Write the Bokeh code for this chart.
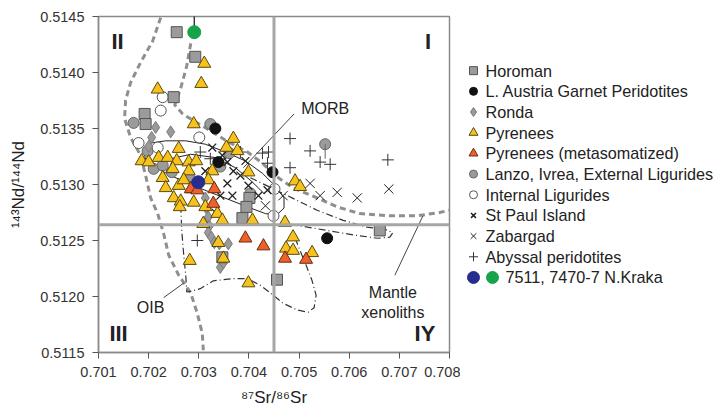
from bokeh.plotting import figure
from bokeh.models import Range1d, FixedTicker, PrintfTickFormatter, Span
from bokeh.layouts import row
from bokeh.embed import file_html
from bokeh.resources import INLINE
from bokeh.core.properties import value

FONT = "Liberation Sans"

# ---------------- axes ----------------
x_ticks = [0.701, 0.702, 0.703, 0.704, 0.705, 0.706, 0.707, 0.708]
y_ticks = [0.5115, 0.5120, 0.5125, 0.5130, 0.5135, 0.5140, 0.5145]
sr_divide = 0.7045
nd_divide = 0.51264

# ---------------- data ----------------
horoman_sr = [0.70256, 0.70293, 0.70250, 0.70192, 0.70194, 0.70401, 0.70395, 0.70387, 0.70347, 0.70456, 0.70661]
horoman_nd = [0.51436, 0.51414, 0.51378, 0.51363, 0.51354, 0.51288, 0.51280, 0.51270, 0.51235, 0.51215, 0.51259]

austria_sr = [0.70333, 0.70339, 0.70447, 0.70556]
austria_nd = [0.51350, 0.51320, 0.51311, 0.51252]

ronda_sr = [0.70214, 0.70244, 0.70206, 0.70200, 0.70313, 0.70315, 0.70319, 0.70321, 0.70319, 0.70325,
            0.70331, 0.70341, 0.70359, 0.70343, 0.70349]
ronda_nd = [0.51351, 0.51347, 0.51342, 0.51334, 0.51288, 0.51279, 0.51271, 0.51263, 0.51257, 0.51253,
            0.51248, 0.51247, 0.51247, 0.51226, 0.51230]

pyr_sr = [0.70311, 0.70305, 0.70218, 0.70290, 0.70369, 0.70355, 0.70377, 0.70260, 0.70186, 0.70200,
          0.70220, 0.70238, 0.70256, 0.70280, 0.70295, 0.70248, 0.70228, 0.70280, 0.70327, 0.70399,
          0.70260, 0.70234, 0.70319, 0.70270, 0.70287, 0.70250, 0.70264, 0.70262, 0.70290, 0.70313,
          0.70337, 0.70347, 0.70407, 0.70309, 0.70339, 0.70349, 0.70282, 0.70399, 0.70472, 0.70488,
          0.70474, 0.70488, 0.70526, 0.70492, 0.70502]
pyr_nd = [0.51408, 0.51390, 0.51385, 0.51354, 0.51341, 0.51333, 0.51330, 0.51332, 0.51321, 0.51320,
          0.51324, 0.51324, 0.51321, 0.51320, 0.51321, 0.51314, 0.51306, 0.51312, 0.51312, 0.51311,
          0.51299, 0.51297, 0.51304, 0.51304, 0.51296, 0.51288, 0.51285, 0.51280, 0.51284, 0.51280,
          0.51274, 0.51268, 0.51268, 0.51265, 0.51248, 0.51234, 0.51232, 0.51212, 0.51266, 0.51253,
          0.51243, 0.51241, 0.51239, 0.51303, 0.51298]

meta_sr = [0.70284, 0.70297, 0.70331, 0.70329, 0.70393, 0.70429, 0.70472, 0.70514]
meta_nd = [0.51296, 0.51295, 0.51296, 0.51283, 0.51252, 0.51245, 0.51234, 0.51233]

lanzo_sr = [0.70170, 0.70198, 0.70210, 0.70228, 0.70246, 0.70280, 0.70361, 0.70343, 0.70323, 0.70403, 0.70552]
lanzo_nd = [0.51355, 0.51330, 0.51314, 0.51317, 0.51311, 0.51307, 0.51328, 0.51316, 0.51354, 0.51292, 0.51336]

intlig_sr = [0.70228, 0.70224, 0.70301, 0.70180, 0.70218, 0.70451, 0.70449]
intlig_nd = [0.51378, 0.51366, 0.51342, 0.51337, 0.51333, 0.51296, 0.51272]

stpaul_sr = [0.70327, 0.70347, 0.70357, 0.70369, 0.70357, 0.70367, 0.70343, 0.70383, 0.70399, 0.70419,
             0.70437, 0.70333, 0.70313, 0.70393]
stpaul_nd = [0.51333, 0.51326, 0.51320, 0.51312, 0.51301, 0.51290, 0.51290, 0.51308, 0.51299, 0.51290,
             0.51295, 0.51275, 0.51312, 0.51321]

zab_sr = [0.70522, 0.70542, 0.70576, 0.70616, 0.70679, 0.70468, 0.70433]
zab_nd = [0.51301, 0.51290, 0.51293, 0.51288, 0.51296, 0.51290, 0.51281]

abyss_sr = [0.70482, 0.70522, 0.70542, 0.70562, 0.70482, 0.70677, 0.70427, 0.70439, 0.70437, 0.70297,
            0.70303, 0.70323, 0.70383]
abyss_nd = [0.51341, 0.51330, 0.51320, 0.51318, 0.51315, 0.51322, 0.51328, 0.51329, 0.51319, 0.51250,
            0.51329, 0.51323, 0.51329]

kraka_blue_sr = [0.70299]
kraka_blue_nd = [0.51302]
kraka_green_sr = [0.70291]
kraka_green_nd = [0.51436]
kraka_green_err_top = [0.51462]

lanzo_err_sr = [0.70552]
lanzo_err_lo = [0.51323]

# ---------------- field outlines ----------------
oib_sr = [0.70224, 0.70208, 0.70184, 0.70164, 0.70154, 0.70152, 0.70164, 0.70184, 0.70194, 0.70204,
          0.70218, 0.70230, 0.70240, 0.70260, 0.70284, 0.70297, 0.70307, 0.70309]
oib_nd = [0.51449, 0.51428, 0.51409, 0.51391, 0.51375, 0.51359, 0.51342, 0.51326, 0.51308, 0.51288,
          0.51274, 0.51256, 0.51237, 0.51219, 0.51203, 0.51185, 0.51167, 0.51152]

xeno_up_sr = [0.70284, 0.70276, 0.70264, 0.70252, 0.70268, 0.70293, 0.70323, 0.70359, 0.70397, 0.70427,
              0.70452, 0.70488, 0.70536, 0.70576, 0.70621, 0.70681, 0.70735, 0.70780, 0.70810]
xeno_up_nd = [0.51426, 0.51406, 0.51386, 0.51371, 0.51363, 0.51356, 0.51348, 0.51338, 0.51329, 0.51319,
              0.51308, 0.51297, 0.51288, 0.51280, 0.51274, 0.51272, 0.51272, 0.51275, 0.51278]

xeno_lo_sr = [0.70403, 0.70468, 0.70536, 0.70588, 0.70635, 0.70671, 0.70687, 0.70681, 0.70657, 0.70608,
              0.70556, 0.70502, 0.70462]
xeno_lo_nd = [0.51306, 0.51292, 0.51277, 0.51268, 0.51262, 0.51260, 0.51257, 0.51253, 0.51252, 0.51255,
              0.51259, 0.51263, 0.51266]

pyr_field_sr = [0.70264, 0.70266, 0.70270, 0.70274, 0.70276, 0.70287, 0.70303, 0.70329, 0.70369, 0.70397,
                0.70423, 0.70449, 0.70468, 0.70496, 0.70518, 0.70530, 0.70534, 0.70526, 0.70514, 0.70502,
                0.70494]
pyr_field_nd = [0.51281, 0.51259, 0.51237, 0.51219, 0.51204, 0.51205, 0.51207, 0.51214, 0.51216, 0.51216,
                0.51210, 0.51201, 0.51194, 0.51188, 0.51186, 0.51190, 0.51201, 0.51214, 0.51228, 0.51241,
                0.51250]

morb_sr = [0.70190, 0.70204, 0.70234, 0.70274, 0.70313, 0.70353, 0.70393, 0.70427, 0.70454, 0.70470,
           0.70470, 0.70456, 0.70433, 0.70403, 0.70363, 0.70323, 0.70284, 0.70244, 0.70214, 0.70194, 0.70190]
morb_nd = [0.51330, 0.51337, 0.51339, 0.51339, 0.51336, 0.51329, 0.51321, 0.51310, 0.51298, 0.51288,
           0.51279, 0.51273, 0.51274, 0.51279, 0.51286, 0.51293, 0.51300, 0.51308, 0.51315, 0.51322, 0.51330]

morb_inner_sr = [0.70234, 0.70284, 0.70333, 0.70373, 0.70405, 0.70430]
morb_inner_nd = [0.51322, 0.51327, 0.51324, 0.51315, 0.51303, 0.51292]

# ---------------- labels ----------------
quadrant_labels = ["II", "I", "III", "IY"]
quadrant_sr = [0.70138, 0.70757, 0.70140, 0.70751]
quadrant_nd = [0.51428, 0.51428, 0.51167, 0.51167]

field_labels = ["MORB", "OIB", "Mantle", "xenoliths"]
field_label_sr = [0.70552, 0.70204, 0.70687, 0.70687]
field_label_nd = [0.51368, 0.51190, 0.51204, 0.51186]

leader_x0 = [0.70490, 0.70230, 0.70691]
leader_y0 = [0.51363, 0.51199, 0.51219]
leader_x1 = [0.70389, 0.70270, 0.70747]
leader_y1 = [0.51315, 0.51212, 0.51272]

legend_labels = ["Horoman", "L. Austria Garnet Peridotites", "Ronda", "Pyrenees",
                 "Pyrenees (metasomatized)", "Lanzo, Ivrea, External Ligurides",
                 "Internal Ligurides", "St Paul Island", "Zabargad", "Abyssal peridotites",
                 "7511, 7470-7 N.Kraka"]

GREY_FILL = "#9b9b9b"
YELLOW = "#f6c21b"
ORANGE = "#ec6228"
BLUE = "#262d8f"
GREEN = "#17a34a"

# ---------------- main figure ----------------
p = figure(frame_width=351, frame_height=336, min_border_left=98, min_border_right=11,
           min_border_top=16, min_border_bottom=55,
           x_range=Range1d(0.701, 0.708), y_range=Range1d(0.5115, 0.5145),
           toolbar_location=None, output_backend="svg")
p.grid.visible = False
p.background_fill_color = "white"
p.border_fill_color = "white"
p.outline_line_color = "#8a8a8a"
p.outline_line_width = 1.5

for ax in (p.xaxis[0], p.yaxis[0]):
    ax.axis_line_color = "#8a8a8a"
    ax.axis_line_width = 1.5
    ax.major_tick_line_color = "#555555"
    ax.major_tick_out = 6
    ax.major_tick_in = 0
    ax.minor_tick_line_color = None
    ax.major_label_text_font = FONT
    ax.major_label_text_font_size = "14.5px"
    ax.major_label_text_color = "#333333"
    ax.axis_label_text_font = FONT
    ax.axis_label_text_font_style = "normal"
    ax.axis_label_text_font_size = "17px"
    ax.axis_label_text_color = "#222222"

p.xaxis.ticker = FixedTicker(ticks=x_ticks)
p.yaxis.ticker = FixedTicker(ticks=y_ticks)
p.xaxis.formatter = PrintfTickFormatter(format="%.3f")
p.yaxis.formatter = PrintfTickFormatter(format="%.4f")
p.xaxis.axis_label = "\u2078\u2077Sr/\u2078\u2076Sr"
p.yaxis.axis_label = "\u00b9\u2074\u00b3Nd/\u00b9\u2074\u2074Nd"
p.yaxis.major_label_standoff = 8
p.xaxis.major_label_standoff = 8
p.yaxis.axis_label_standoff = 9
p.xaxis.axis_label_standoff = 8

# quadrant dividers
p.add_layout(Span(location=sr_divide, dimension="height", line_color="#a6a6a6", line_width=3))
p.add_layout(Span(location=nd_divide, dimension="width", line_color="#a6a6a6", line_width=3))

# field outlines
p.line(oib_sr, oib_nd, line_color="#8f8f8f", line_width=3, line_dash="6 4")
p.line(xeno_up_sr, xeno_up_nd, line_color="#8f8f8f", line_width=3, line_dash="6 4")
p.line(xeno_lo_sr, xeno_lo_nd, line_color="#333333", line_width=1.2, line_dash="7 3 1 3")
p.line(pyr_field_sr, pyr_field_nd, line_color="#333333", line_width=1.2, line_dash="7 3 1 3")
p.line(morb_sr, morb_nd, line_color="#222222", line_width=1)
p.line(morb_inner_sr, morb_inner_nd, line_color="#222222", line_width=1)
p.segment(leader_x0, leader_y0, leader_x1, leader_y1, line_color="#444444", line_width=1)

# series
p.scatter(lanzo_sr, lanzo_nd, marker="circle", size=11, fill_color=GREY_FILL, line_color="#666666")
p.segment(lanzo_err_sr, lanzo_nd[-1:], lanzo_err_sr, lanzo_err_lo, line_color="#666666", line_width=1)
p.scatter(intlig_sr, intlig_nd, marker="circle", size=11, fill_color="white", line_color="#555555")
p.scatter(ronda_sr, ronda_nd, marker="diamond", size=12, fill_color="#9a9a9a", line_color="#7a7a7a")
p.scatter(horoman_sr, horoman_nd, marker="square", size=11, fill_color=GREY_FILL, line_color="#555555")
p.scatter(stpaul_sr, stpaul_nd, marker="x", size=11, line_color="#222222", line_width=1.3)
p.scatter(zab_sr, zab_nd, marker="x", size=13, line_color="#222222", line_width=1)
p.scatter(abyss_sr, abyss_nd, marker="cross", size=12, line_color="#333333", line_width=1)
p.scatter(austria_sr, austria_nd, marker="circle", size=11, fill_color="#111111", line_color="#111111")
p.scatter(pyr_sr, pyr_nd, marker="triangle", size=13, fill_color=YELLOW, line_color="#5a4a10", line_width=1)
p.scatter(meta_sr, meta_nd, marker="triangle", size=13, fill_color=ORANGE, line_color="#6a2a10", line_width=1)
p.segment(kraka_green_sr, kraka_green_nd, kraka_green_sr, kraka_green_err_top, line_color="#222222", line_width=1.3)
p.scatter(kraka_blue_sr, kraka_blue_nd, marker="circle", size=13, fill_color=BLUE, line_color=BLUE)
p.scatter(kraka_green_sr, kraka_green_nd, marker="circle", size=13, fill_color=GREEN, line_color=GREEN)

# labels
p.text(quadrant_sr, quadrant_nd, text=quadrant_labels, text_font=value(FONT), text_font_style="bold",
       text_font_size="22px", text_color="#222222", text_align="center", text_baseline="middle")
p.text(field_label_sr, field_label_nd, text=field_labels, text_font=value(FONT),
       text_font_size="16px", text_color="#222222", text_align="center", text_baseline="middle")

# ---------------- legend figure ----------------
W2, H2 = 262, 407
leg = figure(width=W2, height=H2, x_range=Range1d(0, W2), y_range=Range1d(H2, 0),
             x_axis_type=None, y_axis_type=None, toolbar_location=None, output_backend="svg",
             min_border=0)
leg.grid.visible = False
leg.outline_line_color = None
leg.background_fill_color = "white"
leg.border_fill_color = "white"

row_y = [66 + 25.2 * i for i in range(len(legend_labels))]
mx = 13
leg.scatter([mx], [row_y[0]], marker="square", size=8, fill_color=GREY_FILL, line_color="#555555")
leg.scatter([mx], [row_y[1]], marker="circle", size=8, fill_color="#111111", line_color="#111111")
leg.scatter([mx], [row_y[2]], marker="diamond", size=9, fill_color="#9a9a9a", line_color="#7a7a7a")
leg.scatter([mx], [row_y[3]], marker="triangle", size=9, fill_color=YELLOW, line_color="#5a4a10")
leg.scatter([mx], [row_y[4]], marker="triangle", size=9, fill_color=ORANGE, line_color="#6a2a10")
leg.scatter([mx], [row_y[5]], marker="circle", size=8, fill_color=GREY_FILL, line_color="#666666")
leg.scatter([mx], [row_y[6]], marker="circle", size=8, fill_color="white", line_color="#555555")
leg.scatter([mx], [row_y[7]], marker="x", size=7, line_color="#222222", line_width=1.5)
leg.scatter([mx], [row_y[8]], marker="x", size=8, line_color="#222222", line_width=1)
leg.scatter([mx], [row_y[9]], marker="cross", size=9, line_color="#333333", line_width=1)
leg.scatter([mx], [row_y[10]], marker="circle", size=12, fill_color=BLUE, line_color=BLUE)
leg.scatter([mx + 19], [row_y[10]], marker="circle", size=12, fill_color=GREEN, line_color=GREEN)

text_x = [25] * 10 + [45]
leg.text(text_x, row_y, text=legend_labels, text_font=value(FONT), text_font_size="16.2px",
         text_color="#222222", text_align="left", text_baseline="middle")

layout = row(p, leg)
open("out.html", "w").write(file_html(layout, INLINE))
